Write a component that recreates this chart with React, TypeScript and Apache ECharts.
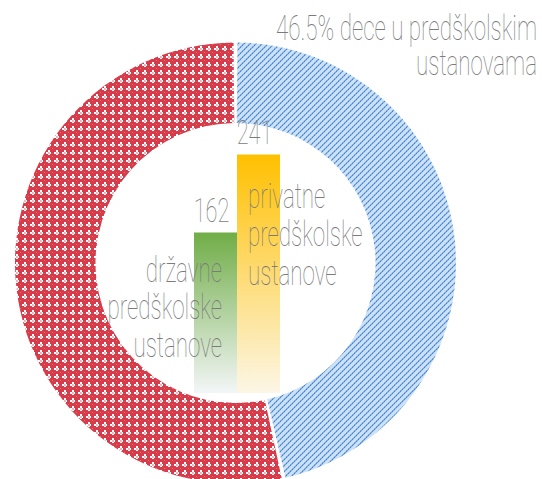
import React, { useEffect, useRef } from "react";
import * as echarts from "echarts";

const donutNames = ["u predškolskim ustanovama", "ostala deca"];
const donutValues = [46.5, 53.5];
const barCategories = ["državne predškolske ustanove", "privatne predškolske ustanove"];
const barValues = [162, 241];
const titleLines = ["46.5% dece u predškolskim", "ustanovama"];
const leftLines = ["državne", "predškolske", "ustanove"];
const rightLines = ["privatne", "predškolske", "ustanove"];

const FONT = "Roboto";
const TXT = "#7b7b7b";
const SX = 0.64;

function makeBlue(): HTMLCanvasElement {
  const c = document.createElement("canvas");
  c.width = 6; c.height = 6;
  const g = c.getContext("2d")!;
  for (let y = 0; y < 6; y++) for (let x = 0; x < 6; x++) {
    const d = (x + y) % 6;
    let col = "#cfe1f5";
    if (d === 5) col = x % 2 === 0 ? "#4586cc" : "#6aa3dd";
    else if (d === 4) col = x % 2 === 0 ? "#7fb1e4" : "#98c1eb";
    else if (d === 0) col = "#b6d2f0";
    g.fillStyle = col; g.fillRect(x, y, 1, 1);
  }
  return c;
}

function makeRed(): HTMLCanvasElement {
  const c = document.createElement("canvas");
  c.width = 8; c.height = 8;
  const g = c.getContext("2d")!;
  for (let y = 0; y < 8; y++) for (let x = 0; x < 8; x++) {
    let col = "#d63c4a";
    const lx = x <= 1, ly = y <= 1;
    const midx = x >= 3 && x <= 5, midy = y >= 3 && y <= 5;
    if ((lx && !midy) || (ly && !midx)) col = "#ffffff";
    if (lx && ly) col = "#f2b3b8";
    if (x === 4 && y === 4) col = "#e5707a";
    g.fillStyle = col; g.fillRect(x, y, 1, 1);
  }
  return c;
}

export default function App() {
  const ref = useRef<HTMLDivElement>(null);
  useEffect(() => {
    const chart = echarts.init(ref.current!, null, { renderer: "svg" });
    const blue = { image: makeBlue(), repeat: "repeat", imageWidth: 6, imageHeight: 6 } as any;
    const red = { image: makeRed(), repeat: "repeat", imageWidth: 8, imageHeight: 8 } as any;
    const mkText = (t: string, x: number, y: number, align: string, size: number) => ({
      type: "text", x, y, scaleX: SX, z: 10,
      style: { text: t, fill: TXT, font: `100 ${size}px ${FONT}`, textAlign: align, textVerticalAlign: "middle" },
    });
    const graphics: any[] = [];
    titleLines.forEach((t, i) => graphics.push(mkText(t, 537, 28 + i * 35, "right", 35)));
    leftLines.forEach((t, i) => graphics.push(mkText(t, 222, 270 + i * 37.5, "right", 35)));
    rightLines.forEach((t, i) => graphics.push(mkText(t, 248, 196 + i * 38.5, "left", 35)));
    const barColors = [
      new echarts.graphic.LinearGradient(0, 0, 0, 1, [
        { offset: 0, color: "#70ad47" }, { offset: 1, color: "#f3f6f7" },
      ]),
      new echarts.graphic.LinearGradient(0, 0, 0, 1, [
        { offset: 0, color: "#ffc000" }, { offset: 1, color: "#fcf6e6" },
      ]),
    ];
    chart.setOption({
      animation: false,
      backgroundColor: "#ffffff",
      grid: { left: 194, width: 86, top: 96, height: 297 },
      xAxis: { type: "category", data: barCategories, show: false },
      yAxis: { type: "value", min: 0, max: 300, show: false },
      series: [
        {
          type: "pie",
          center: [235.5, 263],
          radius: [140, 220.5],
          startAngle: 90,
          clockwise: true,
          padAngle: 1,
          label: { show: false },
          labelLine: { show: false },
          silent: true,
          data: donutValues.map((v, i) => ({
            value: v, name: donutNames[i],
            itemStyle: { color: i === 0 ? blue : red },
          })),
        },
        {
          type: "bar",
          barWidth: 43,
          barCategoryGap: "0%",
          z: 3,
          data: barValues.map((v, i) => ({ value: v, itemStyle: { color: barColors[i] } })),
        },
        {
          type: "custom",
          z: 5,
          data: barValues.map((v, i) => [i, v]),
          renderItem: (params: any, api: any) => {
            const p = api.coord([api.value(0), api.value(1)]);
            return {
              type: "text", x: p[0] - 4, y: p[1] - 22, scaleX: SX,
              style: {
                text: String(api.value(1)), fill: TXT, font: `100 34px ${FONT}`,
                textAlign: "center", textVerticalAlign: "middle",
              },
            };
          },
        },
      ],
      graphic: graphics,
    });
    return () => chart.dispose();
  }, []);
  return <div ref={ref} style={{ width: 542, height: 479, position: "absolute", left: 0, top: 0 }} />;
}
